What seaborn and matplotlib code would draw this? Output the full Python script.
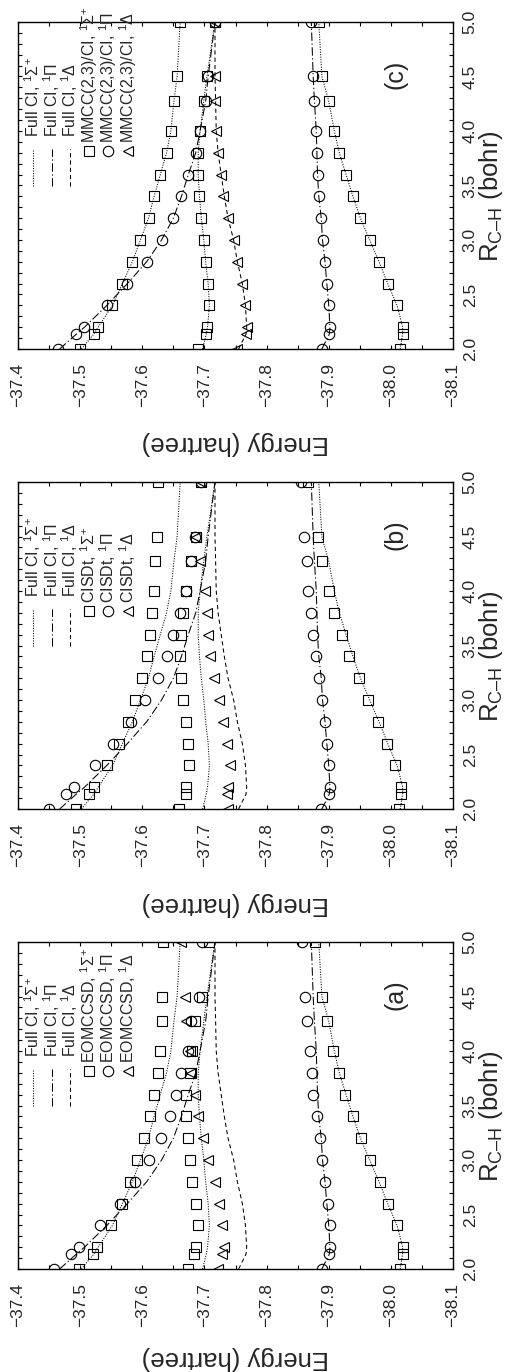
import numpy as np
import matplotlib
matplotlib.use("Agg")
import matplotlib.pyplot as plt
from matplotlib.ticker import MultipleLocator
import seaborn as sns

# C-H bond lengths (bohr) of the computed points
R = [2.0, 2.13713, 2.2, 2.4, 2.6, 2.8, 3.0, 3.2, 3.4, 3.6, 3.8, 4.0, 4.27426, 4.5, 5.0]

# Full CI energies (hartree)
fci_sig1 = [-38.015, -38.019, -38.019, -38.010, -37.995, -37.981, -37.966, -37.951,
            -37.939, -37.928, -37.917, -37.909, -37.900, -37.889, -37.884]
fci_sig2 = [-37.697, -37.703, -37.705, -37.708, -37.706, -37.702, -37.699, -37.695,
            -37.692, -37.690, -37.690, -37.693, -37.699, -37.704, -37.717]
fci_sig3 = [-37.502, -37.522, -37.529, -37.552, -37.568, -37.584, -37.597, -37.610,
            -37.619, -37.629, -37.639, -37.646, -37.651, -37.656, -37.661]
fci_pi1 = [-37.889, -37.901, -37.902, -37.900, -37.897, -37.894, -37.890, -37.888,
           -37.884, -37.882, -37.881, -37.880, -37.877, -37.875, -37.872]
fci_pi2 = [-37.467, -37.494, -37.507, -37.543, -37.576, -37.607, -37.631, -37.650,
           -37.663, -37.674, -37.686, -37.693, -37.702, -37.706, -37.717]
fci_del = [-37.755, -37.767, -37.768, -37.766, -37.761, -37.753, -37.747, -37.738,
           -37.732, -37.727, -37.722, -37.719, -37.718, -37.717, -37.717]

# EOMCCSD energies (hartree)
eom_sig1 = [-38.015, -38.019, -38.019, -38.010, -37.995, -37.982, -37.966, -37.952,
            -37.939, -37.927, -37.916, -37.907, -37.897, -37.889, -37.878]
eom_sig2 = [-37.674, -37.683, -37.686, -37.689, -37.686, -37.680, -37.676, -37.673,
            -37.671, -37.671, -37.676, -37.680, -37.685, -37.696, -37.708]
eom_sig3 = [-37.498, -37.520, -37.527, -37.550, -37.567, -37.581, -37.592, -37.603,
            -37.612, -37.619, -37.625, -37.628, -37.631, -37.632, -37.634]
eom_pi1 = [-37.889, -37.900, -37.902, -37.902, -37.899, -37.894, -37.889, -37.886,
           -37.881, -37.875, -37.873, -37.870, -37.865, -37.862, -37.857]
eom_pi2 = [-37.458, -37.486, -37.498, -37.532, -37.564, -37.588, -37.611, -37.630,
           -37.644, -37.655, -37.663, -37.673, -37.679, -37.691, -37.696]
eom_del = [-37.722, -37.729, -37.731, -37.729, -37.724, -37.717, -37.706, -37.697,
           -37.690, -37.685, -37.678, -37.677, -37.670, -37.669, -37.663]

# CISDt energies (hartree)
cis_sig1 = [-38.013, -38.017, -38.017, -38.007, -37.994, -37.979, -37.964, -37.948,
            -37.933, -37.921, -37.909, -37.901, -37.889, -37.883, -37.867]
cis_sig2 = [-37.659, -37.670, -37.671, -37.675, -37.674, -37.670, -37.665, -37.662,
            -37.661, -37.663, -37.665, -37.670, -37.678, -37.686, -37.694]
cis_sig3 = [-37.494, -37.514, -37.522, -37.543, -37.563, -37.577, -37.589, -37.600,
            -37.607, -37.612, -37.616, -37.619, -37.620, -37.623, -37.625]
cis_pi1 = [-37.888, -37.900, -37.902, -37.900, -37.897, -37.894, -37.889, -37.884,
           -37.880, -37.875, -37.872, -37.867, -37.865, -37.860, -37.856]
cis_pi2 = [-37.450, -37.478, -37.490, -37.524, -37.553, -37.582, -37.604, -37.625,
           -37.639, -37.649, -37.661, -37.670, -37.679, -37.685, -37.694]
cis_del = [-37.738, -37.736, -37.738, -37.741, -37.737, -37.730, -37.723, -37.716,
           -37.709, -37.706, -37.704, -37.701, -37.693, -37.687, -37.694]

# MMCC(2,3)/CI energies (hartree)
mmcc_sig1 = [-38.015, -38.019, -38.019, -38.010, -37.995, -37.981, -37.966, -37.951,
             -37.939, -37.928, -37.917, -37.909, -37.900, -37.889, -37.884]
mmcc_sig2 = [-37.690, -37.702, -37.704, -37.708, -37.706, -37.702, -37.699, -37.694,
             -37.692, -37.690, -37.690, -37.693, -37.699, -37.704, -37.717]
mmcc_sig3 = [-37.499, -37.522, -37.529, -37.552, -37.568, -37.584, -37.597, -37.610,
             -37.619, -37.629, -37.639, -37.646, -37.651, -37.656, -37.660]
mmcc_pi1 = [-37.889, -37.901, -37.902, -37.900, -37.897, -37.894, -37.890, -37.888,
            -37.884, -37.882, -37.881, -37.880, -37.877, -37.874, -37.871]
mmcc_pi2 = [-37.464, -37.494, -37.507, -37.543, -37.576, -37.607, -37.631, -37.650,
            -37.663, -37.674, -37.686, -37.693, -37.702, -37.706, -37.717]
mmcc_del = [-37.752, -37.767, -37.768, -37.765, -37.760, -37.752, -37.747, -37.738,
            -37.730, -37.726, -37.722, -37.719, -37.717, -37.717, -37.717]

energy_ticks = [-37.4, -37.5, -37.6, -37.7, -37.8, -37.9, -38.0, -38.1]
energy_labels = ["\u221237.4", "\u221237.5", "\u221237.6", "\u221237.7",
                 "\u221237.8", "\u221237.9", "\u221238.0", "\u221238.1"]
r_ticks = [2.0, 2.5, 3.0, 3.5, 4.0, 4.5, 5.0]
r_labels = ["2.0", "2.5", "3.0", "3.5", "4.0", "4.5", "5.0"]

sym_labels = [r"$^{1}\Sigma^{+}$", r"$^{1}\Pi$", r"$^{1}\Delta$"]

sns.set_style("ticks")
plt.rcParams["font.family"] = ["Liberation Sans", "DejaVu Sans"]
plt.rcParams["mathtext.fontset"] = "custom"
plt.rcParams["mathtext.rm"] = "Liberation Sans"
plt.rcParams["mathtext.it"] = "Liberation Sans:italic"
plt.rcParams["mathtext.bf"] = "Liberation Sans:bold"

LS_SIG = (0, (1.0, 1.4))
LS_PI = (0, (8.0, 2.5, 1.2, 2.5))
LS_DEL = (0, (4.0, 3.0))
LW = 0.75
SQ, CI, TR = ("s", 6.6), ("o", 7.5), ("<", 7.5)

fig = plt.figure(figsize=(5.08, 13.72), dpi=100)
fig.patch.set_facecolor("white")

W, H = 508.0, 1372.0
ax_left, ax_w, ax_h = 18 / W, 435 / W, 327 / H
# (axes bottom in px from top, method name, its energies, panel tag, energy-label offset)
panels = [
    (349, "MMCC(2,3)/CI", (mmcc_sig1, mmcc_sig2, mmcc_sig3, mmcc_pi1, mmcc_pi2, mmcc_del), "(c)", -0.288),
    (809, "CISDt", (cis_sig1, cis_sig2, cis_sig3, cis_pi1, cis_pi2, cis_del), "(b)", -0.292),
    (1269, "EOMCCSD", (eom_sig1, eom_sig2, eom_sig3, eom_pi1, eom_pi2, eom_del), "(a)", -0.271),
]

fci_curves = [(fci_sig1, LS_SIG), (fci_sig2, LS_SIG), (fci_sig3, LS_SIG),
              (fci_pi1, LS_PI), (fci_pi2, LS_PI), (fci_del, LS_DEL)]
marker_kind = [SQ, SQ, SQ, CI, CI, TR]

for bottom_px, method, series, tag, elab_y in panels:
    ax = fig.add_axes([ax_left, 1 - bottom_px / H, ax_w, ax_h])
    ax.set_facecolor("white")

    # Full CI reference curves
    for energies, ls in fci_curves:
        sns.lineplot(x=energies, y=R, sort=False, estimator=None, errorbar=None,
                     color="black", linewidth=LW, linestyle=ls, ax=ax)

    # approximate-method points as open symbols
    for energies, (mk, ms) in zip(series, marker_kind):
        sns.lineplot(x=energies, y=R, sort=False, estimator=None, errorbar=None,
                     color="black", linestyle="", marker=mk, markersize=ms,
                     markerfacecolor="none", markeredgecolor="black",
                     markeredgewidth=0.8, ax=ax)

    ax.set_xlim(-37.4, -38.1)
    ax.set_ylim(2.0, 5.0)
    ax.set_xticks(energy_ticks)
    ax.set_xticklabels(energy_labels, rotation=90)
    ax.xaxis.set_minor_locator(MultipleLocator(0.05))
    ax.yaxis.tick_right()
    ax.set_yticks(r_ticks)
    ax.set_yticklabels(r_labels, rotation=90, va="center")
    ax.yaxis.set_minor_locator(MultipleLocator(0.1))
    ax.tick_params(which="both", direction="in", top=True, bottom=True,
                   left=True, right=True, labelleft=False, labelright=True,
                   labelbottom=True, length=3.0, width=0.8, color="black")
    ax.tick_params(axis="x", which="major", pad=10, labelsize=12.5)
    ax.tick_params(axis="y", which="major", pad=7, labelsize=12.5)
    for sp in ax.spines.values():
        sp.set_linewidth(1.0)
        sp.set_color("black")
        sp.set_visible(True)
    ax.set_xlabel("")
    ax.set_ylabel("")

    ax.text(0.5, elab_y, "Energy (hartree)", rotation=180, transform=ax.transAxes,
            ha="center", va="center", fontsize=18.5)
    ax.text(1.088, 0.468, "R$_{\\rm C\u2013H}$ (bohr)", rotation=90, transform=ax.transAxes,
            ha="center", va="center", fontsize=18.5)
    ax.text(0.867, 0.84, tag, rotation=90, transform=ax.transAxes,
            ha="center", va="center", fontsize=18)

    # key: Full CI line samples
    for x, ls, sym in zip([0.0345, 0.078, 0.1195], [LS_SIG, LS_PI, LS_DEL], sym_labels):
        ax.plot([x, x], [0.498, 0.612], transform=ax.transAxes, color="black",
                linewidth=LW, linestyle=ls)
        ax.text(x, 0.648, "Full CI, " + sym, rotation=90, rotation_mode="anchor",
                transform=ax.transAxes, ha="left", va="center", fontsize=11.5)
    # key: method symbols
    for x, (mk, ms), sym in zip([0.163, 0.207, 0.253], [SQ, CI, TR], sym_labels):
        ax.plot([x], [0.606], transform=ax.transAxes, marker=mk, markersize=ms,
                markerfacecolor="none", markeredgecolor="black", markeredgewidth=0.8,
                linestyle="")
        ax.text(x, 0.63, method + ", " + sym, rotation=90, rotation_mode="anchor",
                transform=ax.transAxes, ha="left", va="center", fontsize=11.5)

fig.savefig("out.png", dpi=100, facecolor="white")
